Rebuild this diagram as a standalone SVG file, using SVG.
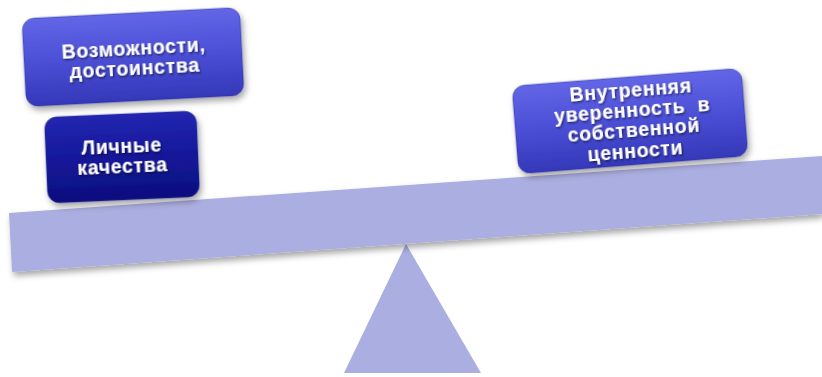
<svg xmlns="http://www.w3.org/2000/svg" width="822" height="377" viewBox="0 0 822 377">
<defs>
<linearGradient id="gLight" x1="0" y1="0" x2="0" y2="1">
<stop offset="0" stop-color="#6266e6"/>
<stop offset="0.5" stop-color="#4b4fd6"/>
<stop offset="1" stop-color="#3438b8"/>
</linearGradient>
<linearGradient id="gDark" x1="0" y1="0" x2="0" y2="1">
<stop offset="0" stop-color="#2226b0"/>
<stop offset="0.5" stop-color="#15189a"/>
<stop offset="1" stop-color="#0c0e7e"/>
</linearGradient>
<filter id="sh" x="-10%" y="-10%" width="125%" height="135%">
<feDropShadow dx="2" dy="4" stdDeviation="3" flood-color="#000" flood-opacity="0.35"/>
</filter>
<filter id="tsh" x="-10%" y="-20%" width="120%" height="150%">
<feDropShadow dx="1" dy="1.5" stdDeviation="0.8" flood-color="#000" flood-opacity="0.6"/>
</filter>
</defs>
<style>
.box{stroke:#2a2c90;stroke-width:1;stroke-opacity:0.5}
.t{font-family:"Liberation Sans",Arial,sans-serif;font-weight:bold;font-size:19.5px;letter-spacing:0.7px;fill:#ffffff;text-anchor:middle;filter:url(#tsh);white-space:pre}
.beam{fill:#abaee0}
</style>
<rect width="822" height="377" fill="#ffffff"/>
<g id="fulcrum">
<polygon class="beam" points="406,244 344,373 481,373"/>
</g>
<g id="beam">
<polygon class="beam" points="9,213 822,156 822,214 12,272" filter="url(#sh)"/>
</g>
<g id="node-vozmozhnosti" transform="rotate(-3 133 57)">
<rect class="box" x="24" y="13" width="218" height="88" rx="12" fill="url(#gLight)" filter="url(#sh)"/>
<text class="t" x="134" y="55">Возможности,</text>
<text class="t" x="134" y="75">достоинства</text>
</g>
<g id="node-lichnye" transform="rotate(-2.5 122 156)">
<rect class="box" x="46" y="114" width="152" height="86" rx="12" fill="url(#gDark)" filter="url(#sh)"/>
<text class="t" x="122" y="153">Личные</text>
<text class="t" x="122" y="173">качества</text>
</g>
<g id="node-vnutrennyaya" transform="rotate(-4.5 630 121)">
<rect class="box" x="515" y="77" width="230" height="88" rx="12" fill="url(#gLight)" filter="url(#sh)"/>
<text class="t" x="633" y="97">Внутренняя</text>
<text class="t" x="633" y="117" xml:space="preserve">уверенность  в</text>
<text class="t" x="633" y="137">собственной</text>
<text class="t" x="633" y="158">ценности</text>
</g>
<g id="connectors"/>
</svg>
